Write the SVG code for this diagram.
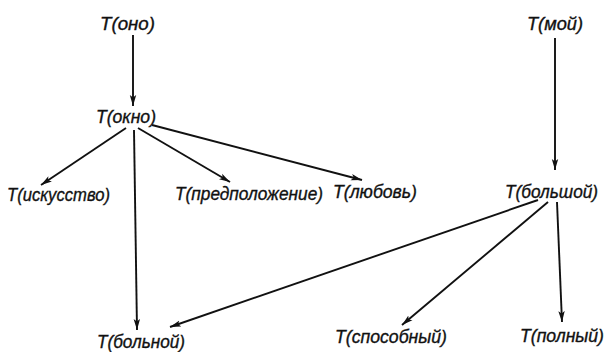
<svg xmlns="http://www.w3.org/2000/svg" width="605" height="352" viewBox="0 0 605 352">
  <style>
    .lbl { font-family: "Liberation Sans", "DejaVu Sans", sans-serif; font-style: italic; font-size: 18px; fill: #111; stroke: #111; stroke-width: 0.35; }
    .edge { stroke: #111; stroke-width: 1.9; fill: none; marker-end: url(#arrow); }
  </style>
  <defs>
    <marker id="arrow" markerUnits="userSpaceOnUse" markerWidth="12" markerHeight="8" refX="11" refY="4" orient="auto">
      <path d="M0,0.8 L11,4 L0,7.2 L2.5,4 Z" fill="#111"/>
    </marker>
  </defs>

  <g id="connectors">
    <line class="edge" x1="133" y1="35" x2="133" y2="106"/>
    <line class="edge" x1="126" y1="128" x2="41" y2="185"/>
    <line class="edge" x1="134" y1="130" x2="137" y2="330"/>
    <line class="edge" x1="138" y1="128" x2="230" y2="182"/>
    <line class="edge" x1="152" y1="125" x2="362" y2="180"/>
    <line class="edge" x1="555" y1="38" x2="555" y2="170"/>
    <line class="edge" x1="538" y1="200" x2="170" y2="327"/>
    <line class="edge" x1="548" y1="202" x2="402" y2="325"/>
    <line class="edge" x1="557" y1="202" x2="562" y2="322"/>
  </g>

  <g id="n-ono"><text class="lbl" x="100" y="30" textLength="55" lengthAdjust="spacingAndGlyphs">T(оно)</text></g>
  <g id="n-okno"><text class="lbl" x="96" y="123" textLength="60" lengthAdjust="spacingAndGlyphs">T(окно)</text></g>
  <g id="n-iskusstvo"><text class="lbl" x="7" y="201" textLength="103" lengthAdjust="spacingAndGlyphs">T(искусство)</text></g>
  <g id="n-predpolozhenie"><text class="lbl" x="175" y="200" textLength="148" lengthAdjust="spacingAndGlyphs">T(предположение)</text></g>
  <g id="n-lyubov"><text class="lbl" x="333" y="198" textLength="84" lengthAdjust="spacingAndGlyphs">T(любовь)</text></g>
  <g id="n-moy"><text class="lbl" x="527" y="30" textLength="56" lengthAdjust="spacingAndGlyphs">T(мой)</text></g>
  <g id="n-bolshoy"><text class="lbl" x="505" y="198" textLength="93" lengthAdjust="spacingAndGlyphs">T(большой)</text></g>
  <g id="n-bolnoy"><text class="lbl" x="97" y="348" textLength="88" lengthAdjust="spacingAndGlyphs">T(больной)</text></g>
  <g id="n-sposobny"><text class="lbl" x="335" y="343" textLength="112" lengthAdjust="spacingAndGlyphs">T(способный)</text></g>
  <g id="n-polny"><text class="lbl" x="520" y="342" textLength="84" lengthAdjust="spacingAndGlyphs">T(полный)</text></g>
</svg>
